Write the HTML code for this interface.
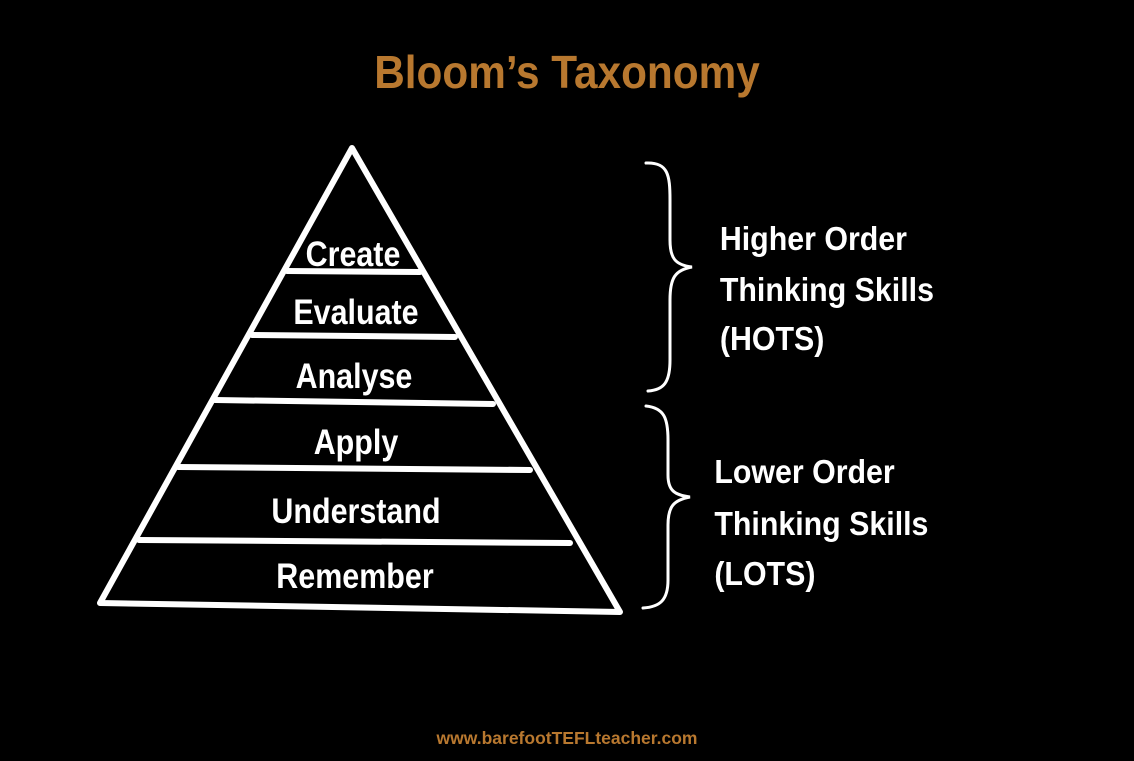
<!DOCTYPE html>
<html><head><meta charset="utf-8"><style>
html,body{margin:0;padding:0;background:#000;}
body{width:1134px;height:756px;position:relative;overflow:hidden;}
</style></head><body>
<svg width="1134" height="756" viewBox="0 0 1134 756" xmlns="http://www.w3.org/2000/svg">
<rect width="1134" height="756" fill="#000"/>
<text x="567" y="88" text-anchor="middle" font-family="Liberation Sans, sans-serif" font-weight="bold" font-size="46" fill="#b8782f" transform="translate(567 0) scale(0.92 1) translate(-567 0)">Bloom’s Taxonomy</text>
<g fill="none" stroke="#fff" stroke-width="6" stroke-linecap="round" stroke-linejoin="round">
<path d="M352,148 L100,603 L620,612 Z"/>
<path d="M287,271 L420,272"/>
<path d="M252,335 L455,337"/>
<path d="M215,400 L493,404"/>
<path d="M178,467 L530,470"/>
<path d="M139,540 L570,543"/>
</g>
<g fill="none" stroke="#fff" stroke-width="3" stroke-linecap="round">
<path d="M646,163 C668,162 670,175 670,200 L670,240 C670,258 675,265 692,267 C675,270 670,278 670,300 L670,360 C670,382 664,390 648,391"/>
<path d="M646,406 C664,408 668,418 668,440 L668,475 C668,490 674,495 690,497 C674,500 668,506 668,525 L668,580 C668,600 660,607 643,608"/>
</g>
<g font-family="Liberation Sans, sans-serif" font-weight="bold" fill="#fff" font-size="35" text-anchor="middle">
<text x="353" y="266" transform="translate(353 0) scale(0.87 1) translate(-353 0)">Create</text>
<text x="356" y="324" transform="translate(356 0) scale(0.87 1) translate(-356 0)">Evaluate</text>
<text x="354" y="388" transform="translate(354 0) scale(0.87 1) translate(-354 0)">Analyse</text>
<text x="356" y="454" transform="translate(356 0) scale(0.87 1) translate(-356 0)">Apply</text>
<text x="356" y="523" transform="translate(356 0) scale(0.87 1) translate(-356 0)">Understand</text>
<text x="355" y="588" transform="translate(355 0) scale(0.87 1) translate(-355 0)">Remember</text>
</g>
<g font-family="Liberation Sans, sans-serif" font-weight="bold" fill="#fff" font-size="33" transform="translate(718 0) scale(0.92 1) translate(-718 0)">
<text x="720" y="250">Higher Order</text>
<text x="720" y="301">Thinking Skills</text>
<text x="720" y="350">(HOTS)</text>
<text x="714" y="483">Lower Order</text>
<text x="714" y="535">Thinking Skills</text>
<text x="714" y="585">(LOTS)</text>
</g>
<text x="567" y="744" text-anchor="middle" font-family="Liberation Sans, sans-serif" font-weight="bold" font-size="17.5" fill="#b8782f">www.barefootTEFLteacher.com</text>
</svg>
</body></html>
